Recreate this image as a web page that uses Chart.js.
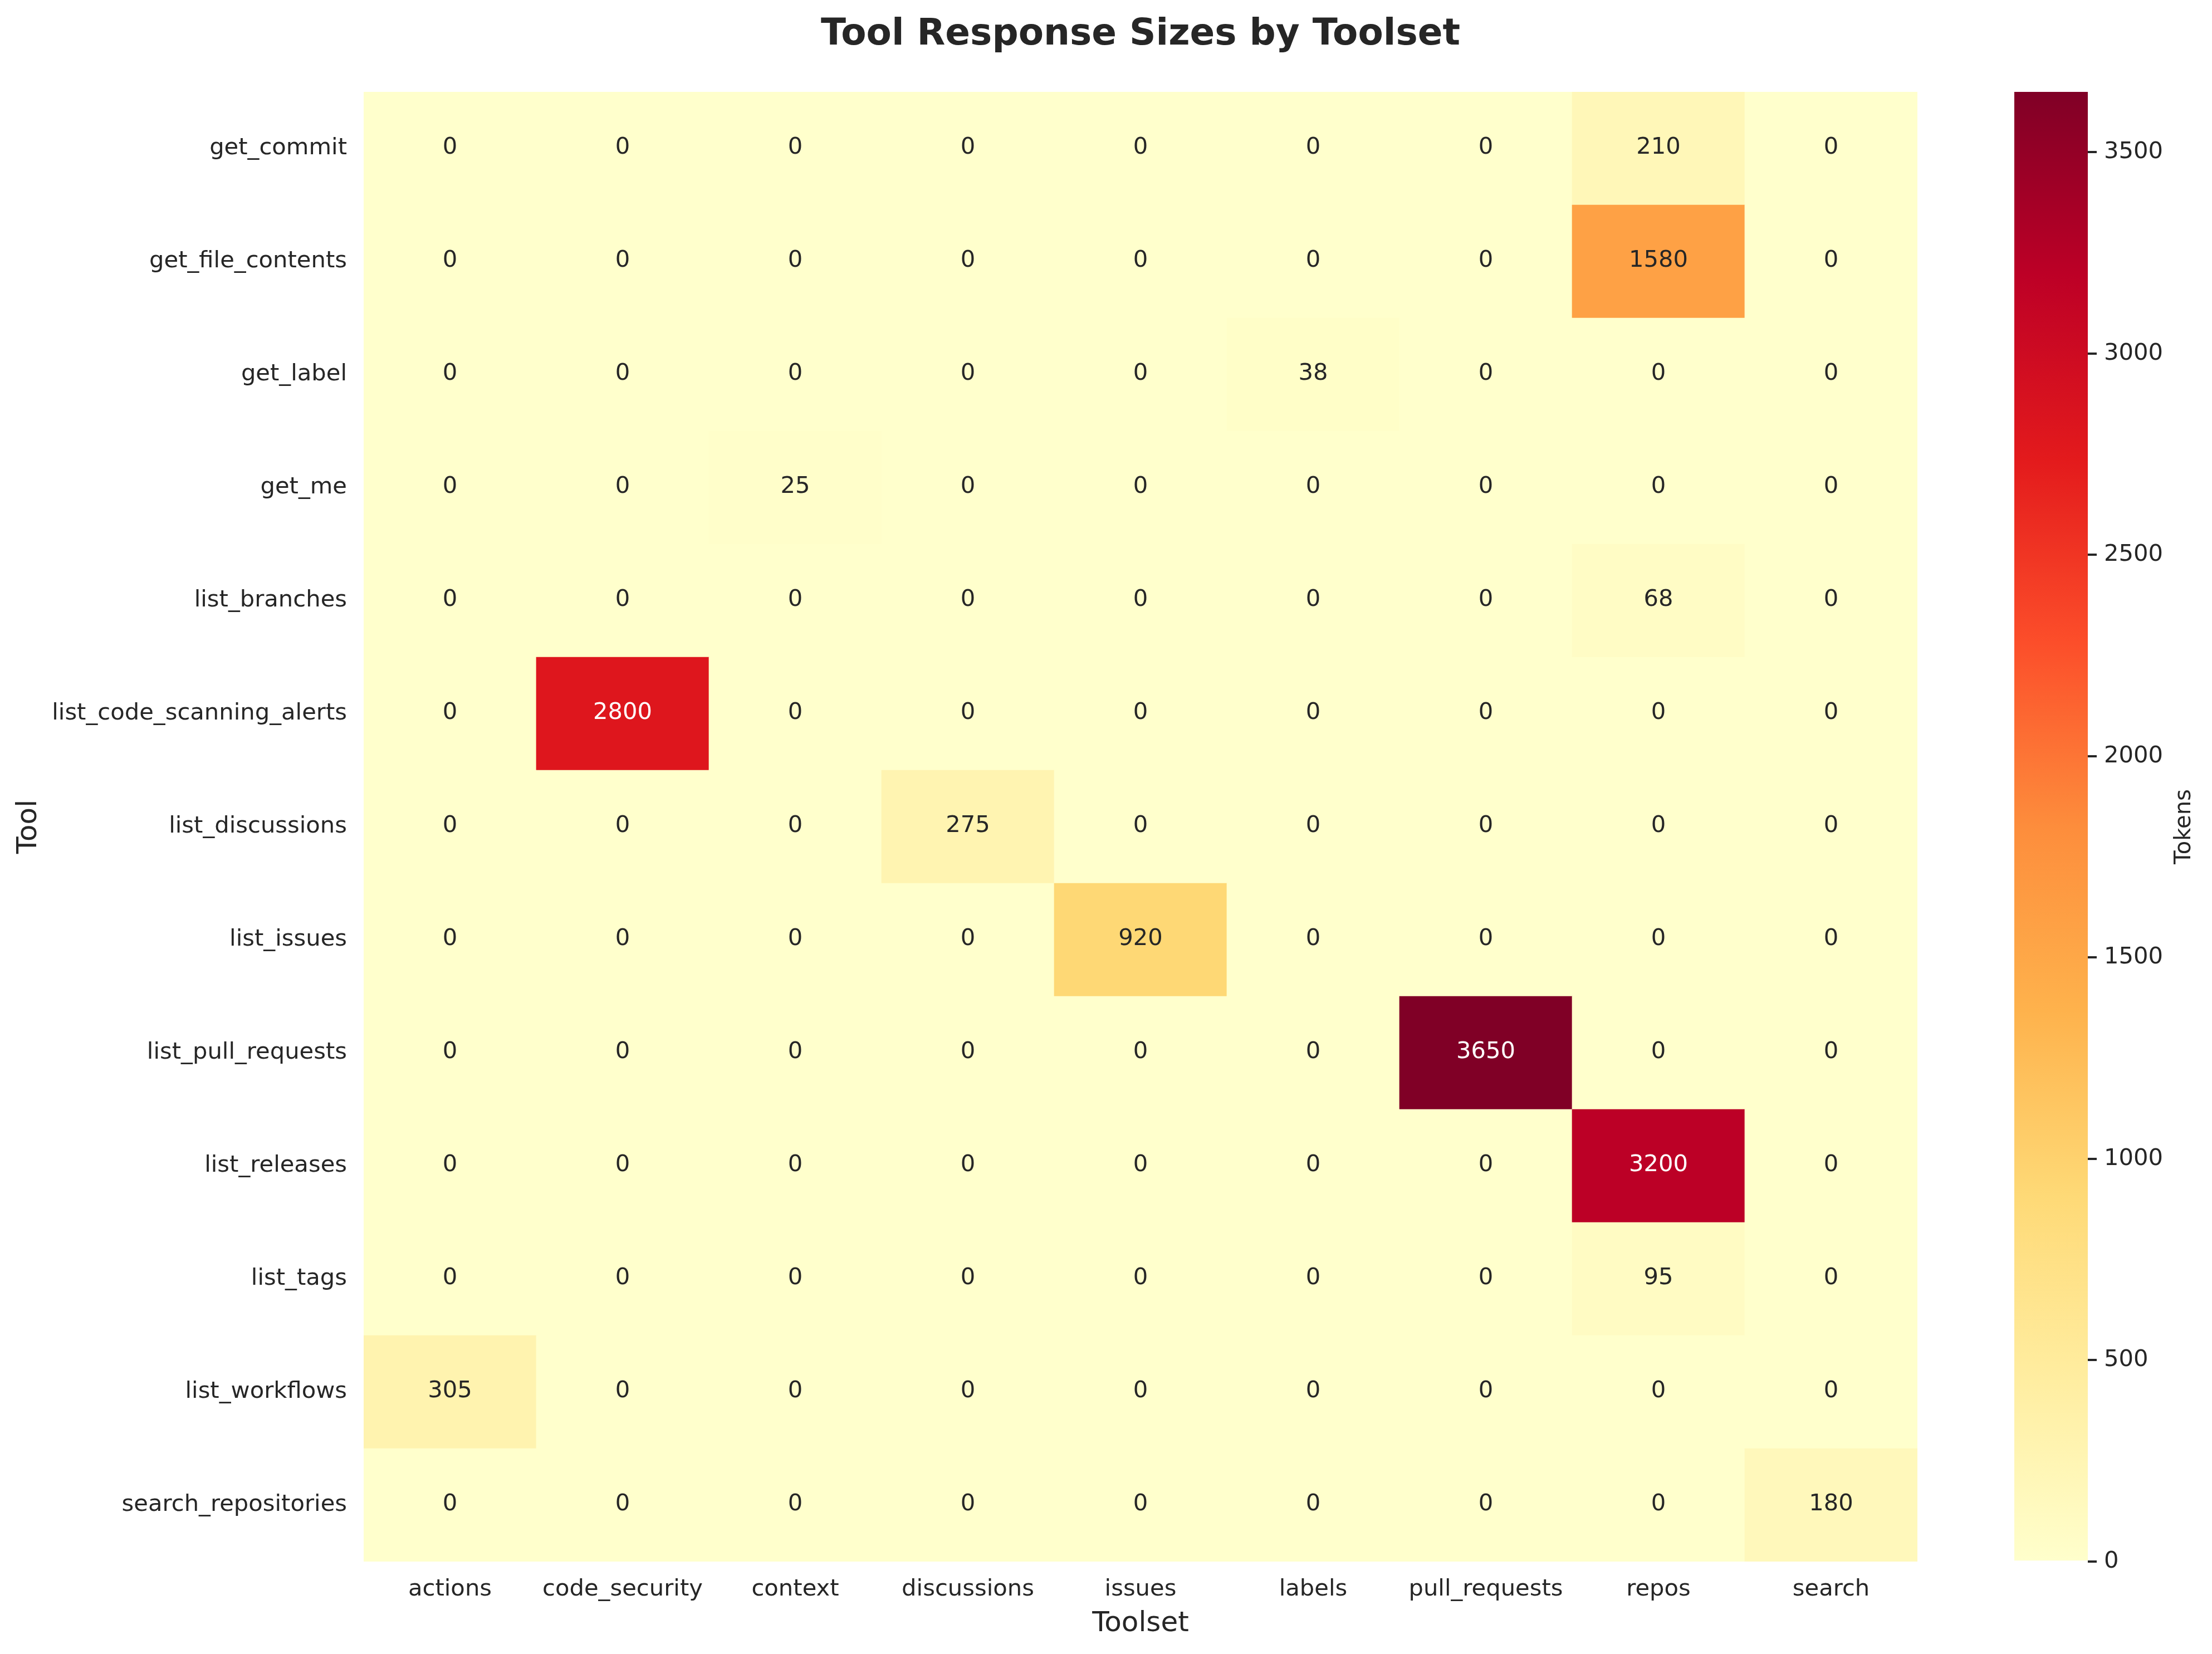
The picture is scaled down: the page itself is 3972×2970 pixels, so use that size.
<!DOCTYPE html>
<html lang="en">
<head>
<meta charset="UTF-8">
<title>Tool Response Sizes by Toolset</title>
<script src="https://cdn.jsdelivr.net/npm/chart.js"></script>
<style>
  body { margin: 0; background: #ffffff; width: 3972px; height: 2970px; overflow: hidden; position: relative; }
  #heat { position: absolute; left: 0; top: 0; }
  #cbar { position: absolute; left: 3560px; top: 0; }
</style>
</head>
<body>
<canvas id="heat" width="3560" height="2970"></canvas>
<canvas id="cbar" width="412" height="2970"></canvas>
<script>
const toolsets = ["actions", "code_security", "context", "discussions", "issues", "labels", "pull_requests", "repos", "search"];
const tools = ["get_commit", "get_file_contents", "get_label", "get_me", "list_branches", "list_code_scanning_alerts",
  "list_discussions", "list_issues", "list_pull_requests", "list_releases", "list_tags", "list_workflows", "search_repositories"];
// one row per tool, one column per toolset
const values = [
  [0, 0, 0, 0, 0, 0, 0, 210, 0],
  [0, 0, 0, 0, 0, 0, 0, 1580, 0],
  [0, 0, 0, 0, 0, 38, 0, 0, 0],
  [0, 0, 25, 0, 0, 0, 0, 0, 0],
  [0, 0, 0, 0, 0, 0, 0, 68, 0],
  [0, 2800, 0, 0, 0, 0, 0, 0, 0],
  [0, 0, 0, 275, 0, 0, 0, 0, 0],
  [0, 0, 0, 0, 920, 0, 0, 0, 0],
  [0, 0, 0, 0, 0, 0, 3650, 0, 0],
  [0, 0, 0, 0, 0, 0, 0, 3200, 0],
  [0, 0, 0, 0, 0, 0, 0, 95, 0],
  [305, 0, 0, 0, 0, 0, 0, 0, 0],
  [0, 0, 0, 0, 0, 0, 0, 0, 180]
];
const cbTicks = [0, 500, 1000, 1500, 2000, 2500, 3000, 3500];

// YlOrRd
const ylorrd = ["#ffffcc", "#ffeda0", "#fed976", "#feb24c", "#fd8d3c", "#fc4e2a", "#e31a1c", "#bd0026", "#800026"];
const vmax = Math.max(...values.flat());
const TEXT = "#262626";

Chart.defaults.font.family = "'DejaVu Sans', sans-serif";
Chart.defaults.color = TEXT;

function hexRgb(h) {
  return [1, 3, 5].map(i => parseInt(h.substr(i, 2), 16));
}

function colorAt(v) {
  const t = Math.min(1, Math.max(0, v / vmax)) * (ylorrd.length - 1);
  const i = Math.min(Math.floor(t), ylorrd.length - 2);
  const f = t - i;
  const a = hexRgb(ylorrd[i]), b = hexRgb(ylorrd[i + 1]);
  return a.map((c, k) => Math.round(c + (b[k] - c) * f));
}

function textColor(v) {
  // same rule seaborn uses for annot colours
  const lin = colorAt(v).map(c => {
    c = c / 255;
    return c <= 0.03928 ? c / 12.92 : Math.pow((c + 0.055) / 1.055, 2.4);
  });
  const lum = 0.2126 * lin[0] + 0.7152 * lin[1] + 0.0722 * lin[2];
  return lum > 0.408 ? TEXT : "#ffffff";
}

const cells = [];
tools.forEach((t, r) => {
  toolsets.forEach((s, c) => {
    cells.push({ x: s, y: [r - 0.5, r + 0.5], v: values[r][c] });
  });
});

const annotate = {
  id: "annotate",
  afterDatasetsDraw(chart) {
    const ctx = chart.ctx;
    const meta = chart.getDatasetMeta(0);
    ctx.save();
    ctx.font = "41.7px 'DejaVu Sans'";
    ctx.textAlign = "center";
    ctx.textBaseline = "middle";
    meta.data.forEach((bar, i) => {
      const v = cells[i].v;
      ctx.fillStyle = textColor(v);
      ctx.fillText(String(v), bar.x, (bar.y + bar.base) / 2 - 1);
    });
    ctx.restore();
  }
};

new Chart(document.getElementById("heat"), {
  type: "bar",
  data: {
    labels: toolsets,
    datasets: [{
      data: cells,
      backgroundColor: cells.map(c => "rgb(" + colorAt(c.v).join(",") + ")"),
      borderWidth: 0,
      barPercentage: 1,
      categoryPercentage: 1
    }]
  },
  options: {
    responsive: false,
    devicePixelRatio: 1,
    animation: false,
    layout: { padding: { left: 0, right: 117, top: 0, bottom: 0 } },
    plugins: {
      legend: { display: false },
      tooltip: { enabled: false },
      title: {
        display: true,
        text: "Tool Response Sizes by Toolset",
        fullSize: false,
        color: TEXT,
        font: { size: 66, weight: "bold" },
        padding: { top: 23, bottom: 62.8 }
      }
    },
    scales: {
      x: {
        type: "category",
        grid: { display: false, drawTicks: false },
        border: { display: false },
        ticks: { font: { size: 41.7 }, color: TEXT, padding: 25, autoSkip: false, maxRotation: 0 },
        title: { display: true, text: "Toolset", color: TEXT, font: { size: 50 }, padding: { top: 0, bottom: 24 } },
        afterFit: s => { s.height = 166; }
      },
      y: {
        type: "linear",
        min: -0.5,
        max: tools.length - 0.5,
        reverse: true,
        grid: { display: false, drawTicks: false },
        border: { display: false },
        afterBuildTicks: s => { s.ticks = tools.map((_, i) => ({ value: i })); },
        ticks: { font: { size: 41.7 }, color: TEXT, padding: 30, autoSkip: false, callback: v => tools[v] },
        title: { display: true, text: "Tool", color: TEXT, font: { size: 50 }, padding: { top: 22, bottom: 0 } },
        afterFit: s => { s.width = 653; }
      }
    }
  },
  plugins: [annotate]
});

// colorbar
function gradientFill(context) {
  const chart = context.chart;
  const area = chart.chartArea;
  if (!area) return ylorrd[0];
  const y = chart.scales.y;
  const g = chart.ctx.createLinearGradient(0, y.getPixelForValue(0), 0, y.getPixelForValue(vmax));
  ylorrd.forEach((c, i) => g.addColorStop(i / (ylorrd.length - 1), c));
  return g;
}

const cbLabel = {
  id: "cbLabel",
  afterDraw(chart) {
    const ctx = chart.ctx;
    const a = chart.chartArea;
    ctx.save();
    ctx.translate(363, (a.top + a.bottom) / 2);
    ctx.rotate(-Math.PI / 2);
    ctx.font = "40px 'DejaVu Sans'";
    ctx.fillStyle = TEXT;
    ctx.textAlign = "center";
    ctx.textBaseline = "middle";
    ctx.fillText("Tokens", 0, 0);
    ctx.restore();
  }
};

new Chart(document.getElementById("cbar"), {
  type: "bar",
  data: {
    labels: [""],
    datasets: [{
      data: [[0, vmax]],
      backgroundColor: gradientFill,
      borderWidth: 0,
      barPercentage: 1,
      categoryPercentage: 1
    }]
  },
  options: {
    responsive: false,
    devicePixelRatio: 1,
    animation: false,
    layout: { padding: { left: 57, right: 0, top: 165, bottom: 166 } },
    plugins: { legend: { display: false }, tooltip: { enabled: false } },
    scales: {
      x: { display: false },
      y: {
        position: "right",
        min: 0,
        max: vmax,
        afterBuildTicks: s => { s.ticks = cbTicks.map(v => ({ value: v })); },
        afterFit: s => { s.width = 223; },
        ticks: { font: { size: 41.7 }, color: TEXT, padding: 13, callback: v => String(v) },
        grid: { drawOnChartArea: false, drawTicks: true, tickLength: 16, lineWidth: 4, color: TEXT },
        border: { display: false }
      }
    }
  },
  plugins: [cbLabel]
});
</script>
</body>
</html>
